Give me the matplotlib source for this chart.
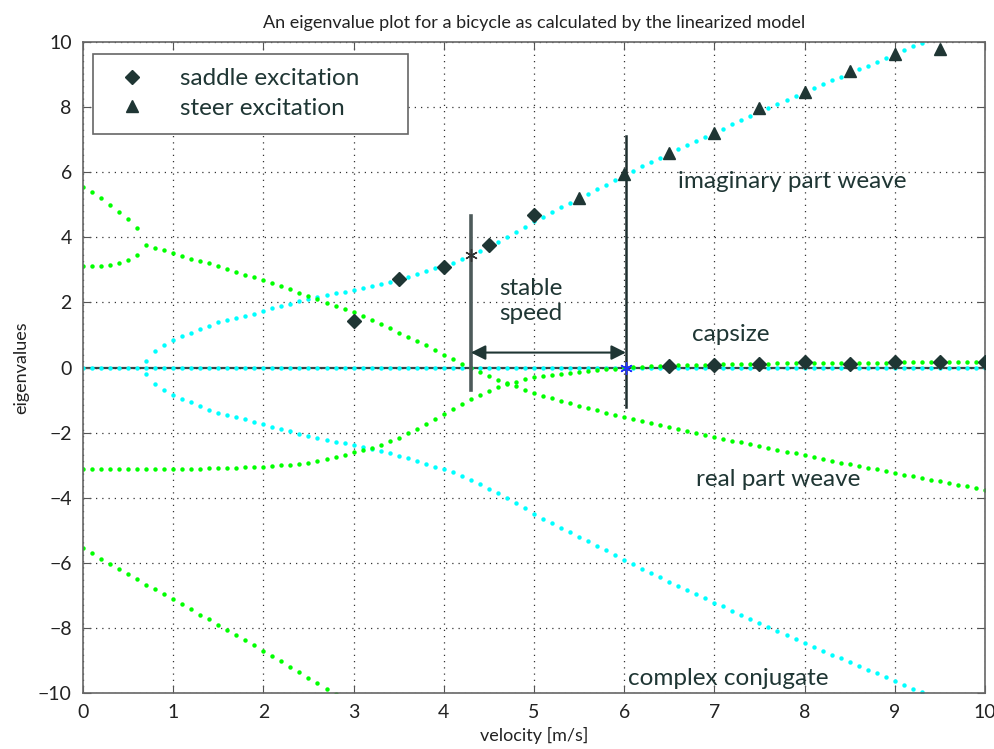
import numpy as np
import matplotlib.pyplot as plt

# eigenvalues read from the picture, sampled every 0.1 m/s
# real eigenvalues below the weave speed (0 .. 0.6 m/s)
real_hi = [5.54, 5.38, 5.20, 5.00, 4.77, 4.55, 4.28]
real_lo = [3.11, 3.11, 3.13, 3.16, 3.20, 3.30, 3.45]

# real part weave (0.7 .. 10 m/s)
weave_real = [3.75, 3.68, 3.60, 3.53, 3.44, 3.35, 3.28, 3.20, 3.11, 3.02,
              2.93, 2.85, 2.78, 2.70, 2.60, 2.50, 2.40, 2.30, 2.20, 2.10,
              1.99, 1.89, 1.80, 1.70, 1.58, 1.45, 1.33, 1.20, 1.06, 0.94,
              0.80, 0.68, 0.53, 0.40, 0.26, 0.12, -0.01, -0.13, -0.26, -0.37,
              -0.48, -0.58, -0.68, -0.77, -0.86, -0.95, -1.03, -1.10, -1.18, -1.25,
              -1.32, -1.39, -1.45, -1.52, -1.58, -1.65, -1.71, -1.78, -1.84, -1.90,
              -1.96, -2.02, -2.07, -2.13, -2.19, -2.25, -2.30, -2.36, -2.42, -2.47,
              -2.53, -2.59, -2.64, -2.70, -2.75, -2.81, -2.86, -2.92, -2.97, -3.02,
              -3.08, -3.13, -3.19, -3.24, -3.29, -3.34, -3.40, -3.45, -3.50, -3.55,
              -3.60, -3.65, -3.70, -3.75]

# capsize (0 .. 10 m/s)
capsize = [-3.12, -3.12, -3.12, -3.12, -3.12, -3.12, -3.12, -3.12, -3.12, -3.12,
           -3.12, -3.11, -3.11, -3.11, -3.10, -3.10, -3.09, -3.08, -3.07, -3.06,
           -3.05, -3.03, -3.01, -2.99, -2.97, -2.93, -2.88, -2.82, -2.75, -2.68,
           -2.60, -2.54, -2.47, -2.38, -2.27, -2.16, -2.02, -1.90, -1.74, -1.59,
           -1.44, -1.28, -1.12, -0.98, -0.85, -0.72, -0.61, -0.51, -0.43, -0.36,
           -0.30, -0.26, -0.22, -0.19, -0.16, -0.13, -0.11, -0.08, -0.06, -0.03,
           0.00, 0.02, 0.03, 0.04, 0.05, 0.06, 0.07, 0.08, 0.09, 0.09,
           0.10, 0.10, 0.11, 0.11, 0.12, 0.12, 0.12, 0.13, 0.13, 0.13,
           0.14, 0.14, 0.14, 0.14, 0.15, 0.15, 0.15, 0.15, 0.15, 0.15,
           0.16, 0.16, 0.16, 0.16, 0.16, 0.17, 0.17, 0.17, 0.17, 0.17,
           0.18]

# castering (0 .. 2.8 m/s)
caster = [-5.53, -5.70, -5.88, -6.03, -6.20, -6.35, -6.51, -6.67, -6.82, -6.97,
          -7.12, -7.28, -7.43, -7.59, -7.74, -7.90, -8.05, -8.21, -8.38, -8.54,
          -8.70, -8.86, -9.03, -9.20, -9.37, -9.53, -9.70, -9.87, -10.03]

# imaginary part weave (0.7 .. 9.3 m/s), plotted as +/- pair
weave_imag = [0.20, 0.50, 0.68, 0.84, 0.96, 1.07, 1.18, 1.29, 1.39, 1.45,
              1.52, 1.58, 1.66, 1.74, 1.82, 1.89, 1.96, 2.03, 2.10, 2.16,
              2.22, 2.28, 2.33, 2.38, 2.44, 2.50, 2.57, 2.64, 2.71, 2.79,
              2.87, 2.96, 3.06, 3.13, 3.22, 3.33, 3.45, 3.58, 3.72, 3.86,
              4.01, 4.17, 4.33, 4.50, 4.64, 4.78, 4.92, 5.06, 5.20, 5.34,
              5.48, 5.62, 5.77, 5.92, 6.05, 6.18, 6.32, 6.45, 6.58, 6.71,
              6.84, 6.97, 7.09, 7.22, 7.34, 7.47, 7.60, 7.72, 7.85, 7.97,
              8.09, 8.21, 8.34, 8.46, 8.58, 8.70, 8.82, 8.93, 9.05, 9.17,
              9.28, 9.40, 9.51, 9.63, 9.75, 9.87, 9.98]

zero_imag = [0.0] * 101

# measurements
saddle_v = [3.0, 3.5, 4.0, 4.5, 5.0, 6.5, 7.0, 7.5, 8.0, 8.5, 9.0, 9.5, 10.0]
saddle_ev = [1.43, 2.71, 3.08, 3.75, 4.69, 0.04, 0.09, 0.12, 0.16, 0.12, 0.16, 0.16, 0.16]
steer_v = [5.5, 6.0, 6.5, 7.0, 7.5, 8.0, 8.5, 9.0, 9.5]
steer_ev = [5.20, 5.94, 6.58, 7.20, 7.97, 8.47, 9.10, 9.64, 9.80]

weave_speed = 4.3
capsize_speed = 6.02


def speeds(start, vals):
    return np.round(start + 0.1 * np.arange(len(vals)), 2)


green = '#00ff00'
cyan = '#00ffff'
ink = '#1f3634'
narrow = ['Liberation Sans Narrow', 'Lato', 'DejaVu Sans']
dot = dict(linestyle='none', marker='o', markersize=3.2, markeredgewidth=0)

fig = plt.figure(figsize=(9.95, 7.49), dpi=100)
ax = fig.add_axes([0.0834, 0.0748, 0.9065, 0.869])

ax.axhline(0, color='#3a4646', lw=1.6, zorder=1)

ax.plot(speeds(0, zero_imag), zero_imag, color=cyan, **dot)
ax.plot(speeds(0.7, weave_imag), weave_imag, color=cyan, **dot)
ax.plot(speeds(0.7, weave_imag), -np.array(weave_imag), color=cyan, **dot)

ax.plot(speeds(0, real_hi), real_hi, color=green, **dot)
ax.plot(speeds(0, real_lo), real_lo, color=green, **dot)
ax.plot(speeds(0.7, weave_real), weave_real, color=green, **dot)
ax.plot(speeds(0, capsize), capsize, color=green, **dot)
ax.plot(speeds(0, caster), caster, color=green, **dot)

# stable speed range
ax.plot([weave_speed, weave_speed], [-0.68, 4.65], color='#4d5a5a', lw=2.6, zorder=3)
ax.plot([capsize_speed, capsize_speed], [-1.2, 7.1], color='#1e2e2e', lw=1.8, zorder=3)
ax.annotate('', xy=(weave_speed, 0.46), xytext=(capsize_speed, 0.46),
            arrowprops=dict(arrowstyle='<|-|>', color=ink, lw=1.5,
                            mutation_scale=22, shrinkA=0, shrinkB=0))

ax.plot(saddle_v, saddle_ev, linestyle='none', marker='D', markersize=7,
        color=ink, label='saddle excitation', zorder=5)
ax.plot(steer_v, steer_ev, linestyle='none', marker='^', markersize=8.5,
        color=ink, label='steer excitation', zorder=5)
ax.plot([weave_speed], [3.45], linestyle='none', marker=(6, 2, 0), markersize=9,
        markeredgewidth=1, color='#333333', zorder=6)
ax.plot([capsize_speed], [0], linestyle='none', marker=(6, 2, 0), markersize=9,
        markeredgewidth=1, color='#2030ff', zorder=6)

txt = dict(color=ink, fontsize=17.5, family=['Lato', 'DejaVu Sans'], va='center')
ax.text(6.6, 5.72, 'imaginary part weave', ha='left', **txt)
ax.text(6.75, 1.0, 'capsize', ha='left', **txt)
ax.text(6.8, -3.45, 'real part weave', ha='left', **txt)
ax.text(6.04, -9.55, 'complex conjugate', ha='left', **txt)
ax.text(4.62, 2.05, 'stable\nspeed', ha='left', linespacing=1.25, **txt)

ax.set_xlim(0, 10)
ax.set_ylim(-10, 10)
ax.set_xticks(range(0, 11))
ax.set_yticks(range(-10, 11, 2))
ax.grid(True, linestyle=(0, (1, 4)), color='#333333', lw=0.9)
ax.tick_params(direction='in', length=6, top=True, right=True, labelsize=14,
               color='#555555', pad=8)
for s in ax.spines.values():
    s.set_color('#666666')
    s.set_linewidth(1.2)
ax.set_yticklabels([str(t).replace('-', '\u2212') for t in range(-10, 11, 2)])
for lab in ax.get_xticklabels() + ax.get_yticklabels():
    lab.set_family(narrow)
    lab.set_color('#222222')

ax.set_title('An eigenvalue plot for a bicycle as calculated by the linearized model',
             fontsize=13, family=narrow, color='#222222', pad=10)
ax.set_xlabel('velocity [m/s]', fontsize=13, family=narrow, color='#222222', labelpad=4)
ax.set_ylabel('eigenvalues', fontsize=13, family=narrow, color='#222222', labelpad=6)

leg = ax.legend(loc='upper left', bbox_to_anchor=(0.011, 0.982, 0.349, 0.0), mode='expand',
                fancybox=False, edgecolor='#666666', framealpha=1,
                prop={'family': ['Lato', 'DejaVu Sans'], 'size': 17.5},
                labelspacing=0.35, borderpad=0.6, handletextpad=1.0, borderaxespad=0)
leg.get_frame().set_linewidth(1.2)
for t in leg.get_texts():
    t.set_color(ink)

fig.savefig('out.png', dpi=100)
